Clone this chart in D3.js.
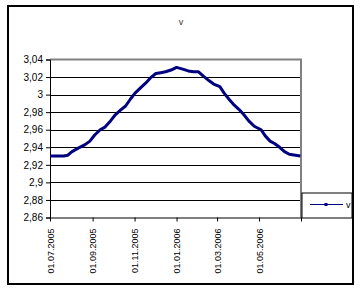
<!DOCTYPE html>
<html>
<head>
<meta charset="utf-8">
<script src="https://cdn.jsdelivr.net/npm/d3@7"></script>
<style>
  body { margin: 0; background: #fff; }
  text { font-family: "Liberation Sans", Arial, sans-serif; }
</style>
</head>
<body>
<svg id="chart" width="362" height="291"></svg>
<script>
'use strict';

var title = "v";
var seriesName = "v";

// dates (dd.mm.yyyy) and values
var dates = [
    "01.07.2005", "11.07.2005", "21.07.2005", "27.07.2005", "02.08.2005",
    "11.08.2005", "21.08.2005", "28.08.2005", "04.09.2005", "12.09.2005",
    "19.09.2005", "27.09.2005", "04.10.2005", "11.10.2005", "19.10.2005",
    "26.10.2005", "02.11.2005", "10.11.2005", "17.11.2005", "24.11.2005",
    "02.12.2005", "09.12.2005", "16.12.2005", "24.12.2005", "01.01.2006",
    "10.01.2006", "18.01.2006", "26.01.2006", "02.02.2006", "09.02.2006",
    "17.02.2006", "24.02.2006", "05.03.2006", "11.03.2006", "18.03.2006",
    "26.03.2006", "02.04.2006", "09.04.2006", "16.04.2006", "24.04.2006",
    "04.05.2006", "10.05.2006", "17.05.2006", "24.05.2006", "31.05.2006",
    "07.06.2006", "14.06.2006", "23.06.2006", "30.06.2006"
];
var values = [
    2.930, 2.930, 2.930, 2.931, 2.935,
    2.939, 2.943, 2.947, 2.954, 2.960,
    2.963, 2.970, 2.977, 2.982, 2.987,
    2.995, 3.002, 3.008, 3.013, 3.019,
    3.024, 3.025, 3.026, 3.028, 3.031,
    3.029, 3.027, 3.026, 3.026, 3.021,
    3.016, 3.012, 3.009, 3.002, 2.995,
    2.988, 2.983, 2.977, 2.970, 2.964,
    2.960, 2.953, 2.947, 2.944, 2.940,
    2.935, 2.932, 2.931, 2.930
];
var xTickDates = ["01.07.2005", "01.09.2005", "01.11.2005", "01.01.2006",
                  "01.03.2006", "01.05.2006", "01.07.2006"];
var yTicks = [2.86, 2.88, 2.9, 2.92, 2.94, 2.96, 2.98, 3, 3.02, 3.04];

var parse = d3.timeParse("%d.%m.%Y"),
    fmtDate = d3.timeFormat("%d.%m.%Y"),
    fmtY = function(v){ return d3.format("")(+v.toFixed(2)).replace(".", ","); };

var plot = {left: 50, right: 301, top: 59.5, bottom: 217.5};

var svg = d3.select("#chart");

var xScale = d3.scaleTime()
        .domain([parse(xTickDates[0]), parse(xTickDates[xTickDates.length-1])])
        .range([plot.left, plot.right]),
    yScale = d3.scaleLinear()
        .domain([2.86, 3.04])
        .range([plot.bottom, plot.top]);

// outer chart border
svg.append("rect")
    .attr("x", 8).attr("y", 6)
    .attr("width", 345).attr("height", 278)
    .style("fill", "#fff")
    .style("stroke", "#000")
    .style("stroke-width", 2);

// title
svg.append("text")
    .attr("x", 181).attr("y", 25)
    .attr("text-anchor", "middle")
    .style("font-size", "9px")
    .style("fill", "#333")
    .text(title);

// grid lines
svg.append("g").selectAll("line")
    .data(yTicks.slice(1, -1))
    .enter().append("line")
        .attr("x1", plot.left).attr("x2", plot.right)
        .attr("y1", function(d){ return Math.round(yScale(d)) + 0.5; })
        .attr("y2", function(d){ return Math.round(yScale(d)) + 0.5; })
        .style("stroke", "#000")
        .style("stroke-width", 1);

// plot area border (top and right, grey)
svg.append("path")
    .attr("d", "M" + plot.left + "," + plot.top + "H" + plot.right + "V" + plot.bottom)
    .style("fill", "none")
    .style("stroke", "#808080")
    .style("stroke-width", 2);

// y axis
var yAxis = d3.axisLeft(yScale)
    .tickValues(yTicks)
    .tickSize(4)
    .tickPadding(3)
    .tickFormat(fmtY);
var gy = svg.append("g")
    .attr("transform", "translate(" + plot.left + ",0)")
    .call(yAxis);
gy.selectAll("text").style("font-size", "10px").style("fill", "#000");
gy.selectAll("path, line").style("stroke", "#000");

// x axis
var xAxis = d3.axisBottom(xScale)
    .tickValues(xTickDates.map(parse))
    .tickSize(4)
    .tickSizeOuter(0)
    .tickFormat(function(d, i){ return i < xTickDates.length - 1 ? fmtDate(d) : ""; });
var gx = svg.append("g")
    .attr("transform", "translate(0," + plot.bottom + ")")
    .call(xAxis);
gx.selectAll("path, line").style("stroke", "#000");
gx.selectAll("text")
    .style("font-size", "9px")
    .style("fill", "#000")
    .attr("text-anchor", "end")
    .attr("transform", "rotate(-90)")
    .attr("x", -11)
    .attr("y", 0)
    .attr("dy", "0.35em");

// the series
var line = d3.line()
    .x(function(d){ return xScale(d.date); })
    .y(function(d){ return yScale(d.value); });
var points = dates.map(function(d, i){ return {date: parse(d), value: values[i]}; });

svg.append("path")
    .datum(points)
    .attr("d", line)
    .style("fill", "none")
    .style("stroke", "#000080")
    .style("stroke-width", 3)
    .style("stroke-linejoin", "round");

// legend
var legend = svg.append("g").attr("transform", "translate(302,193)");
legend.append("rect")
    .attr("x", 0).attr("y", 0)
    .attr("width", 50).attr("height", 25)
    .style("fill", "#fff")
    .style("stroke", "#000")
    .style("stroke-width", 1);
legend.append("line")
    .attr("x1", 8).attr("x2", 41)
    .attr("y1", 11.5).attr("y2", 11.5)
    .style("stroke", "#000080")
    .style("stroke-width", 1);
legend.append("rect")
    .attr("x", 22.5).attr("y", 10)
    .attr("width", 3).attr("height", 3)
    .style("fill", "#000080");
legend.append("text")
    .attr("x", 44).attr("y", 15)
    .style("font-size", "9px")
    .style("fill", "#000")
    .text(seriesName);
</script>
</body>
</html>
